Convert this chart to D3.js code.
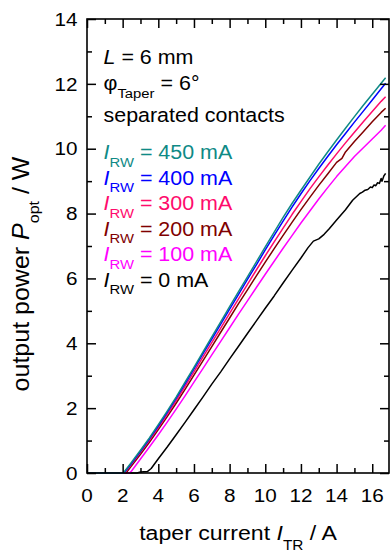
<!DOCTYPE html>
<html>
<head>
<meta charset="utf-8">
<script src="https://cdn.jsdelivr.net/npm/d3@7"></script>
<style>
  html, body { margin: 0; padding: 0; background: #fff; }
  svg { display: block; }
</style>
</head>
<body>
<svg id="chart" width="390" height="555"></svg>
<script>
// Light-current curves of a tapered laser: output power vs. taper current,
// one curve per ridge-waveguide current. Each series is a list of [I_TR (A), P_opt (W)].
const p450 = [[0,0],[2.0,0],[2.05,0.01],[2.5,0.33],[3.0,0.70],[3.5,1.08],[4.0,1.49],[4.5,1.91],[5.0,2.34],[5.5,2.80],[6.0,3.26],[6.5,3.73],[7.0,4.20],[7.5,4.66],[8.0,5.13],[8.5,5.59],[9.0,6.05],[9.5,6.51],[10.0,6.97],[10.5,7.43],[11.0,7.88],[11.5,8.31],[12.0,8.72],[12.5,9.12],[13.0,9.52],[13.5,9.90],[14.0,10.27],[14.5,10.63],[15.0,10.99],[15.5,11.34],[16.0,11.68],[16.5,12.02],[16.75,12.19]];
const p400 = [[0,0],[2.0,0],[2.08,0.01],[2.5,0.30],[3.0,0.67],[3.5,1.05],[4.0,1.45],[4.5,1.87],[5.0,2.30],[5.5,2.75],[6.0,3.21],[6.5,3.67],[7.0,4.13],[7.5,4.59],[8.0,5.05],[8.5,5.51],[9.0,5.97],[9.5,6.42],[10.0,6.88],[10.5,7.33],[11.0,7.77],[11.5,8.20],[12.0,8.61],[12.5,9.01],[13.0,9.39],[13.5,9.76],[14.0,10.12],[14.5,10.47],[15.0,10.82],[15.5,11.16],[16.0,11.50],[16.5,11.85],[16.75,12.02]];
const p300 = [[0,0],[2.0,0],[2.12,0.01],[2.5,0.28],[3.0,0.64],[3.5,1.01],[4.0,1.40],[4.5,1.81],[5.0,2.23],[5.5,2.67],[6.0,3.12],[6.5,3.57],[7.0,4.02],[7.5,4.47],[8.0,4.92],[8.5,5.37],[9.0,5.82],[9.5,6.26],[10.0,6.70],[10.5,7.13],[11.0,7.55],[11.5,7.97],[12.0,8.37],[12.5,8.76],[13.0,9.13],[13.5,9.49],[14.0,9.84],[14.5,10.18],[15.0,10.51],[15.5,10.83],[16.0,11.15],[16.5,11.46],[16.75,11.60]];
const p200 = [[0,0],[2.0,0],[2.2,0.01],[2.5,0.22],[3.0,0.58],[3.5,0.95],[4.0,1.34],[4.5,1.74],[5.0,2.15],[5.5,2.58],[6.0,3.02],[6.5,3.46],[7.0,3.90],[7.5,4.34],[8.0,4.78],[8.5,5.22],[9.0,5.65],[9.5,6.08],[10.0,6.50],[10.5,6.92],[11.0,7.33],[11.5,7.73],[12.0,8.12],[12.5,8.50],[13.0,8.87],[13.5,9.22],[14.0,9.58],[14.3,9.70],[14.5,9.90],[15.0,10.22],[15.5,10.52],[16.0,10.83],[16.5,11.12],[16.75,11.25]];
const p100 = [[0,0],[2.0,0],[2.4,0.01],[2.5,0.06],[3.0,0.43],[3.5,0.80],[4.0,1.18],[4.5,1.57],[5.0,1.97],[5.5,2.38],[6.0,2.80],[6.5,3.22],[7.0,3.64],[7.5,4.06],[8.0,4.48],[8.5,4.90],[9.0,5.31],[9.5,5.72],[10.0,6.13],[10.5,6.53],[11.0,6.93],[11.5,7.32],[12.0,7.71],[12.5,8.08],[13.0,8.45],[13.5,8.80],[14.0,9.14],[14.5,9.45],[15.0,9.76],[15.5,10.03],[16.0,10.30],[16.5,10.57],[16.75,10.72]];
const p0 = [[0,0],[2.8,0],[3.0,0.03],[3.4,0.05],[3.6,0.14],[4.0,0.44],[4.5,0.80],[5.0,1.18],[5.5,1.56],[6.0,1.95],[6.5,2.34],[7.0,2.74],[7.5,3.12],[8.0,3.52],[8.5,3.91],[9.0,4.30],[9.5,4.69],[10.0,5.08],[10.5,5.46],[11.0,5.86],[11.5,6.25],[12.0,6.63],[12.4,6.95],[12.7,7.15],[13.0,7.22],[13.3,7.36],[13.6,7.54],[14.0,7.80],[14.5,8.12],[14.9,8.41],[15.3,8.62],[15.45,8.66],[15.6,8.72],[15.75,8.74],[15.9,8.82],[16.0,8.80],[16.1,8.88],[16.2,8.86],[16.3,8.95],[16.4,8.93],[16.5,9.08],[16.55,9.00],[16.65,9.16],[16.75,9.24]];

// Drawing order: 0 mA first, 450 mA on top.
const seriesData = [p0, p100, p200, p300, p400, p450];
const seriesColors = ["#000000", "#ff00ff", "#800000", "#ff0a6c", "#0000ff", "#0f8a86"];

// Legend rows, top to bottom.
const legendCurrents = ["450 mA", "400 mA", "300 mA", "200 mA", "100 mA", "0 mA"];
const legendColors = ["#0f8a86", "#0000ff", "#ff0a6c", "#800000", "#ff00ff", "#000000"];

const xMajorTicks = [0, 2, 4, 6, 8, 10, 12, 14, 16];
const xMinorTicks = [1, 3, 5, 7, 9, 11, 13, 15];
const yMajorTicks = [0, 2, 4, 6, 8, 10, 12, 14];
const yMinorTicks = [1, 3, 5, 7, 9, 11, 13];

const FONT = "'Liberation Sans', Arial, Helvetica, sans-serif";
const SX = 1.1; // horizontal widening of lettering

const svg = d3.select("#chart");
const plotLeft = 87, plotRight = 389, plotTop = 19, plotBottom = 473;

const x = d3.scaleLinear().domain([0, 16.94]).range([plotLeft, plotRight]);
const y = d3.scaleLinear().domain([0, 14]).range([plotBottom, plotTop]);

// Curves
const line = d3.line().x(d => x(d[0])).y(d => y(d[1]));
svg.append("g").attr("class", "curves")
  .selectAll("path")
  .data(seriesData)
  .join("path")
  .attr("d", line)
  .attr("fill", "none")
  .attr("stroke", (d, i) => seriesColors[i])
  .attr("stroke-width", 1.5)
  .attr("stroke-linejoin", "round");

// Ticks on all four sides, pointing inward
const MAJ = 9, MIN = 5;
function ticks(axisFn, scale, values, size, translate) {
  const g = svg.append("g").attr("transform", translate)
    .call(axisFn(scale).tickValues(values).tickSize(-size).tickFormat(""));
  g.select(".domain").remove();
  g.selectAll(".tick line").attr("stroke", "#000").attr("stroke-width", 1.5);
  return g;
}
ticks(d3.axisBottom, x, xMajorTicks, MAJ, `translate(0,${plotBottom})`);
ticks(d3.axisBottom, x, xMinorTicks, MIN, `translate(0,${plotBottom})`);
ticks(d3.axisTop, x, xMajorTicks, MAJ, `translate(0,${plotTop})`);
ticks(d3.axisTop, x, xMinorTicks, MIN, `translate(0,${plotTop})`);
ticks(d3.axisLeft, y, yMajorTicks, MAJ, `translate(${plotLeft},0)`);
ticks(d3.axisLeft, y, yMinorTicks, MIN, `translate(${plotLeft},0)`);
ticks(d3.axisRight, y, yMajorTicks, MAJ, `translate(${plotRight},0)`);
ticks(d3.axisRight, y, yMinorTicks, MIN, `translate(${plotRight},0)`);

// Frame
svg.append("rect")
  .attr("x", plotLeft).attr("y", plotTop)
  .attr("width", plotRight - plotLeft).attr("height", plotBottom - plotTop)
  .attr("fill", "none").attr("stroke", "#000").attr("stroke-width", 1.6);

// Text helper: text anchored at (px,py), widened horizontally
function label(px, py, anchor, size, color, rotate, widen) {
  const s = widen === undefined ? SX : widen;
  const tr = rotate
    ? `translate(${px},${py}) rotate(-90) scale(1,${s})`
    : `translate(${px},${py}) scale(${s},1)`;
  return svg.append("g").attr("transform", tr)
    .append("text")
    .attr("text-anchor", anchor)
    .attr("font-family", FONT)
    .attr("font-size", size)
    .attr("fill", color || "#000");
}

// Tick labels
xMajorTicks.forEach(v => label(x(v), 501.5, "middle", 18.8).text(v));
yMajorTicks.forEach(v => label(77.5, y(v) + 6.7, "end", 18.8).text(v));

// Axis titles
const xt = label(238, 540, "middle", 21);
xt.append("tspan").text("taper current ");
xt.append("tspan").attr("font-style", "italic").text("I");
xt.append("tspan").attr("font-size", 14).attr("dy", 10).text("TR");
xt.append("tspan").attr("dy", -10).text(" / A");

const yt = label(29, 274, "middle", 25, "#000", true, 0.92);
yt.append("tspan").text("output power ");
yt.append("tspan").attr("font-style", "italic").text("P");
yt.append("tspan").attr("font-size", 16).attr("dy", 11).text("opt");
yt.append("tspan").attr("dy", -11).text(" / W");

// Annotations
const LX = 103.5;
const t1 = label(LX, 64, "start", 19.5);
t1.append("tspan").attr("font-style", "italic").text("L");
t1.append("tspan").text(" = 6 mm");

const t2 = label(LX, 90, "start", 19.5);
t2.append("tspan").text("\u03c6");
t2.append("tspan").attr("font-size", 13.5).attr("dy", 7.5).text("Taper");
t2.append("tspan").attr("dy", -7.5).text(" = 6\u00b0");

label(LX, 121.5, "start", 19.5).text("separated contacts");

legendCurrents.forEach((txt, i) => {
  const t = label(LX, 159.3 + i * 25.5, "start", 19.5, legendColors[i]);
  t.append("tspan").attr("font-style", "italic").text("I");
  t.append("tspan").attr("font-size", 13.5).attr("dy", 7.5).text("RW");
  t.append("tspan").attr("dy", -7.5).text(" = " + txt);
});
</script>
</body>
</html>
